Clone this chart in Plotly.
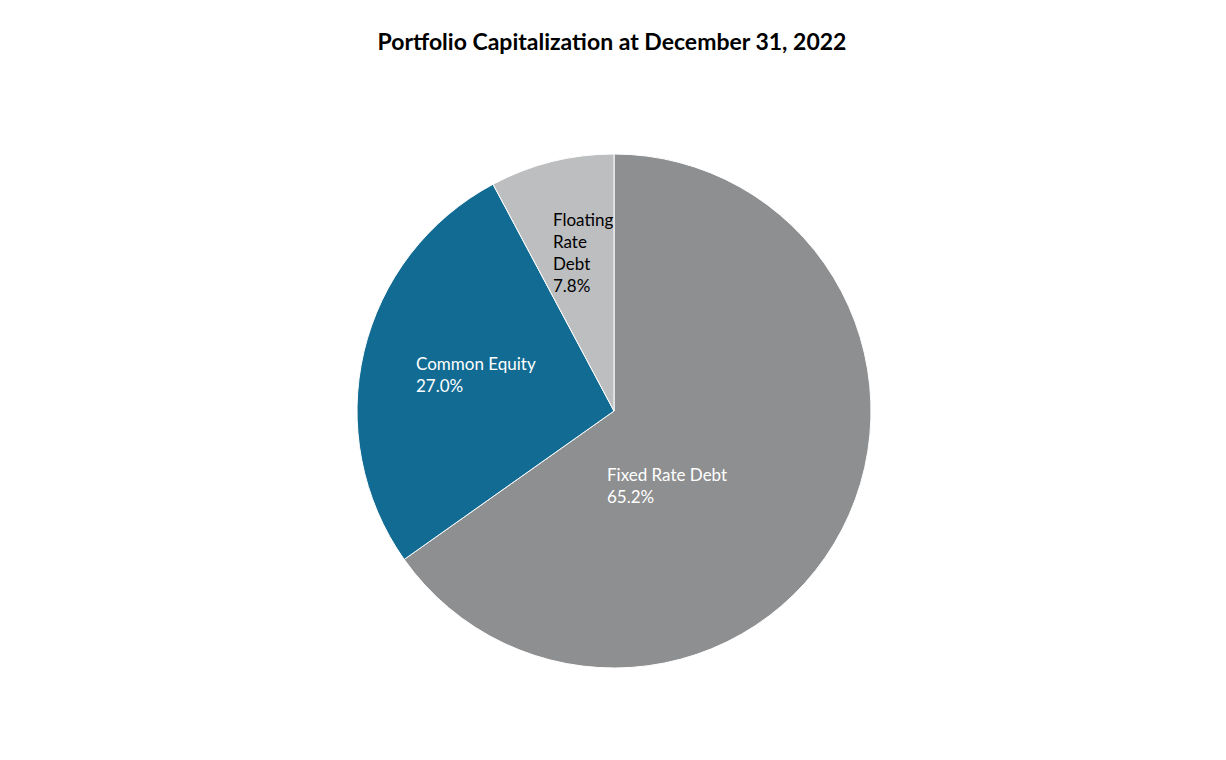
import plotly.graph_objects as go

# Portfolio capitalization data
labels = ["Fixed Rate Debt", "Common Equity", "Floating Rate Debt"]
display_labels = ["Fixed Rate Debt", "Common Equity", "Floating<br>Rate<br>Debt"]
values = [65.2, 27.0, 7.8]
colors = ["#8e8f91", "#126b93", "#bdbec0"]
text_colors = ["white", "white", "black"]

W, H = 1226, 760
OFF = 8  # page body margin offsets the figure by this much

# label anchor spots (pixels in the reference), left aligned
label_px = [(605, 485), (414, 374), (551, 252)]

cx, cy, r = 614 - OFF, 411 - OFF, 257

fig = go.Figure(go.Pie(
    labels=labels,
    values=values,
    sort=False,
    direction="clockwise",
    rotation=0,
    marker=dict(colors=colors, line=dict(color="white", width=1)),
    textinfo="none",
    hoverinfo="label+percent",
    showlegend=False,
    domain=dict(x=[(cx - r) / W, (cx + r) / W], y=[1 - (cy + r) / H, 1 - (cy - r) / H]),
))

for lab, v, tc, (px, py) in zip(display_labels, values, text_colors, label_px):
    fig.add_annotation(
        x=(px - OFF) / W, y=1 - (py - OFF) / H, xref="paper", yref="paper",
        xanchor="left", yanchor="middle", align="left",
        text=f"{lab}<br>{v:.1f}%", showarrow=False,
        font=dict(family="Lato", size=17, color=tc),
    )

fig.update_layout(
    width=W, height=H,
    margin=dict(l=0, r=0, t=0, b=0),
    paper_bgcolor="white",
    plot_bgcolor="white",
    title=dict(
        text="<b>Portfolio Capitalization at December 31, 2022</b>",
        x=(612 - OFF) / W, xanchor="center", y=1 - (42 - OFF) / H, yanchor="middle",
        font=dict(family="Lato", size=23, color="black"),
    ),
)

fig.write_html("out.html")
